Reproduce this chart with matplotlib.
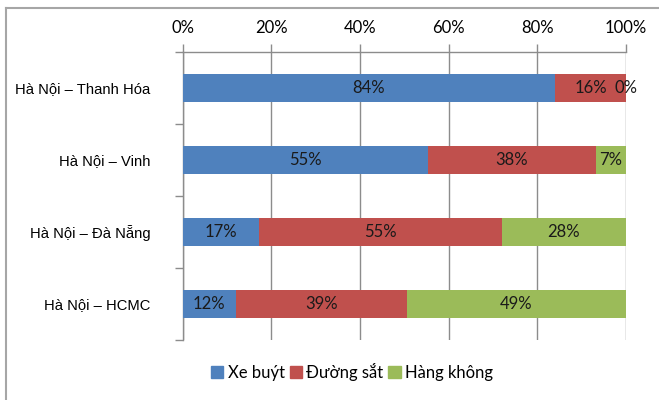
import matplotlib
matplotlib.use("Agg")
import matplotlib.pyplot as plt
from matplotlib.lines import Line2D
import numpy as np

# ─── data ───────────────────────────────────────────────────────────────────
routes = ["Hà Nội – Thanh Hóa", "Hà Nội – Vinh", "Hà Nội – Đà Nẵng", "Hà Nội – HCMC"]
modes = ["Xe buýt", "Đường sắt", "Hàng không"]
bus = [84.0, 55.3, 17.2, 12.0]
rail = [16.0, 37.9, 54.8, 38.6]
air = [0.0, 6.8, 28.0, 49.4]
xticks = [0, 20, 40, 60, 80, 100]

colors = ["#4F81BD", "#C0504D", "#9BBB59"]
GRID = "#8C8C8C"
NUM_FONT = "Lato"
CAT_FONT = "Liberation Sans"

fig = plt.figure(figsize=(6.59, 4.0), dpi=100)
ax = fig.add_axes([0.2772, 0.15, 0.950 - 0.2772, 0.871 - 0.15])

y = np.arange(len(routes))
left = np.zeros(len(routes))
for vals, c in zip([bus, rail, air], colors):
    vals = np.array(vals)
    ax.barh(y, vals, left=left, height=0.39, color=c, zorder=3)
    for yi, l, v in zip(y, left, vals):
        ax.text(l + v / 2, yi, f"{v:.0f}%", ha="center", va="center",
                fontsize=12, family=NUM_FONT, color="#1a1a1a", zorder=4)
    left += vals

ax.set_xlim(0, 100)
ax.set_ylim(len(routes) - 0.5, -0.5)

# top axis with percent labels
ax.xaxis.tick_top()
ax.set_xticks(xticks)
ax.set_xticklabels([f"{t}%" for t in xticks], fontsize=12, family=NUM_FONT)
ax.tick_params(axis="x", direction="out", length=6, color=GRID, width=1, pad=5)
ax.grid(True, axis="x", color=GRID, linewidth=1, zorder=0)

# categories: labels at centres, tick marks at boundaries
ax.set_yticks(y)
ax.set_yticklabels(routes, fontsize=10.6, family=CAT_FONT)
ax.tick_params(axis="y", which="major", length=0, pad=23)
ax.set_yticks(np.arange(len(routes) + 1) - 0.5, minor=True)
ax.tick_params(axis="y", which="minor", direction="out", length=6, color=GRID, width=1)

for s in ["right", "bottom"]:
    ax.spines[s].set_visible(False)
for s in ["left", "top"]:
    ax.spines[s].set_color(GRID)
    ax.spines[s].set_linewidth(1)

handles = [plt.Rectangle((0, 0), 1, 1, color=c) for c in colors]
fig.legend(handles, modes, loc="center", bbox_to_anchor=(0.534, 0.07), ncol=3,
           frameon=False, prop={"family": NUM_FONT, "size": 12},
           handlelength=0.75, handleheight=0.75, handletextpad=0.25,
           columnspacing=0.3)

# outer chart border (only left and top visible in crop)
bx, by = 5.5 / 659, 1 - 7.5 / 400
fig.add_artist(Line2D([bx, bx], [0, by], transform=fig.transFigure,
                      color="#A6A6A6", linewidth=1.5))
fig.add_artist(Line2D([bx, 1], [by, by], transform=fig.transFigure,
                      color="#A6A6A6", linewidth=1.5))

fig.savefig("out.png", dpi=100)
